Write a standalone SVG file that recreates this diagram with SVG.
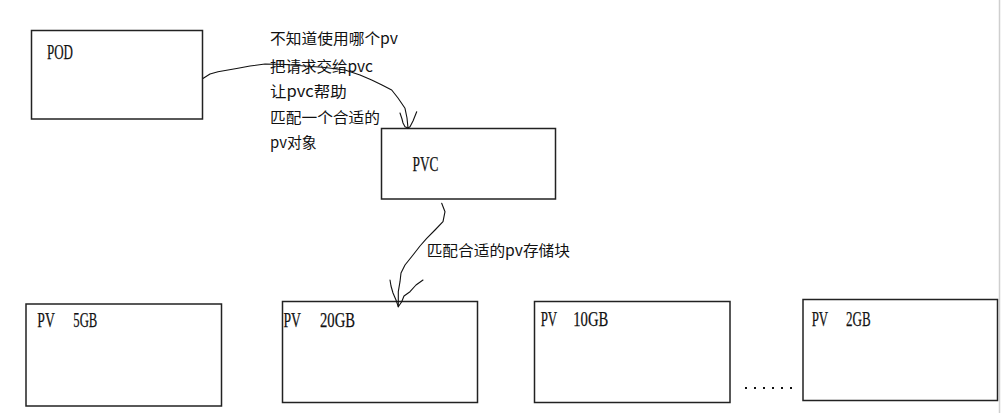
<svg xmlns="http://www.w3.org/2000/svg" width="1001" height="413" viewBox="0 0 1001 413">
<style>
.box{fill:#fff;stroke:#222;stroke-width:1.5}
.lbl{font-family:"Liberation Serif",serif;font-size:21px;fill:#111;stroke:#111;stroke-width:0.25}
.cn{font-family:"Noto Sans CJK SC","Noto Sans",sans-serif;font-size:15px;fill:#111}
.wire{fill:none;stroke:#111;stroke-width:1.1;stroke-linejoin:round;stroke-linecap:round}
</style>
<rect width="1001" height="413" fill="#fff"/>
<line x1="999.5" y1="0" x2="999.5" y2="413" stroke="#cfcfcf" stroke-width="1.5"/>
<g id="pod">
<rect class="box" x="31.5" y="30.5" width="171" height="88.5"/>
<text class="lbl" x="47" y="58.5" textLength="26" lengthAdjust="spacingAndGlyphs">POD</text>
</g>
<g id="pvc">
<rect class="box" x="381.5" y="128.5" width="174" height="70.5"/>
<text class="lbl" x="412.5" y="170.5" textLength="26" lengthAdjust="spacingAndGlyphs">PVC</text>
</g>
<g id="pv5">
<rect class="box" x="26" y="304" width="195.5" height="102"/>
<text class="lbl" x="37.3" y="327" textLength="17.5" lengthAdjust="spacingAndGlyphs">PV</text>
<text class="lbl" x="73.3" y="327" textLength="24" lengthAdjust="spacingAndGlyphs">5GB</text>
</g>
<g id="pv20">
<rect class="box" x="282.5" y="301.5" width="195" height="101"/>
<text class="lbl" x="283.5" y="327" textLength="17.5" lengthAdjust="spacingAndGlyphs">PV</text>
<text class="lbl" x="320" y="327" textLength="35" lengthAdjust="spacingAndGlyphs">20GB</text>
</g>
<g id="pv10">
<rect class="box" x="534.5" y="301.5" width="195.5" height="101"/>
<text class="lbl" x="540.7" y="325.5" textLength="16.5" lengthAdjust="spacingAndGlyphs">PV</text>
<text class="lbl" x="573.3" y="325.5" textLength="35" lengthAdjust="spacingAndGlyphs">10GB</text>
</g>
<g id="pv2">
<rect class="box" x="803" y="299.5" width="194.5" height="101"/>
<text class="lbl" x="811.7" y="325.5" textLength="16.5" lengthAdjust="spacingAndGlyphs">PV</text>
<text class="lbl" x="846" y="325.5" textLength="24.7" lengthAdjust="spacingAndGlyphs">2GB</text>
</g>
<g id="ellipsis" fill="#111">
<rect x="745" y="387" width="2" height="2"/>
<rect x="754" y="387" width="2" height="2"/>
<rect x="763" y="387" width="2" height="2"/>
<rect x="772" y="387" width="2" height="2"/>
<rect x="781" y="387" width="2" height="2"/>
<rect x="790" y="387" width="2" height="2"/>
</g>
<g id="connectors">
<path class="wire" d="M203.3,78.3 L210,74 L218,71.7 L228,70 L238,68.3 L250,66 L265,64 L285,64.5 L305,66 L325,67.5 L345,70 L360,75 L371.7,80 L382,85 L391.7,90 L398,98 L405,108.3 L407,118 L408,128"/>
<path class="wire" d="M400,113 L402,119 L403,123 L405,126.7 L408,128 L410,126.7 L413,121 L415,116 L416.7,111.7"/>
<path class="wire" d="M441.7,203.3 L445,211.7 L443,221.7 L435,230 L426.7,238.3 L420,246 L413,255 L405,265 L401,273 L400,281.7 L398.3,291.7 L398.3,306.7"/>
<path class="wire" d="M390,280 L391,286 L393,293 L396,300 L398.3,306.7 L401.7,301.7 L404,296 L410,291.7 L416,285 L423,280"/>
</g>
<g id="note1" class="cn">
<text x="270" y="44" textLength="128" lengthAdjust="spacingAndGlyphs">不知道使用哪个pv</text>
<text x="270" y="71.5" textLength="103" lengthAdjust="spacingAndGlyphs">把请求交给pvc</text>
<text x="270" y="97" textLength="76.7" lengthAdjust="spacingAndGlyphs">让pvc帮助</text>
<text x="270" y="122.5" textLength="110" lengthAdjust="spacingAndGlyphs">匹配一个合适的</text>
<text x="270" y="148" textLength="46.7" lengthAdjust="spacingAndGlyphs">pv对象</text>
</g>
<g id="note2" class="cn">
<text x="426.7" y="255.5" textLength="143.3" lengthAdjust="spacingAndGlyphs">匹配合适的pv存储块</text>
</g>
</svg>
